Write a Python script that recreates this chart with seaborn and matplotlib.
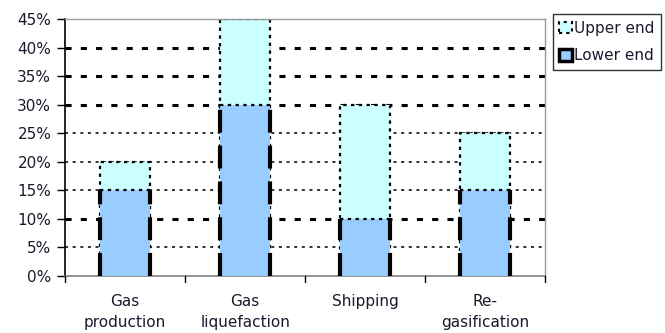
import matplotlib
matplotlib.use("Agg")
import matplotlib.pyplot as plt
import seaborn as sns
import pandas as pd
from matplotlib.patches import Patch

categories = ["Gas\nproduction", "Gas\nliquefaction", "Shipping", "Re-\ngasification"]
lower_end = [15, 30, 10, 15]
upper_end = [20, 45, 30, 25]
y_ticks = [0, 5, 10, 15, 20, 25, 30, 35, 40, 45]

df = pd.DataFrame({"category": categories, "lower": lower_end, "upper": upper_end})

sns.set_style("white")
plt.rcParams["font.family"] = ["DejaVu Sans"]

TEXT = "#1a1a2e"
FS = 11

fig = plt.figure(figsize=(6.65, 3.33), dpi=100)
ax = fig.add_axes([0.098, 0.171, 0.722, 0.772])

# dotted gridlines behind the bars
for t in y_ticks[1:-1]:
    lw = 2.2 if t in (10, 30, 35, 40) else 1.1
    ax.axhline(t, color="black", linestyle=(0, (2, 3)), linewidth=lw, zorder=0)

sns.barplot(data=df, x="category", y="upper", color="#CCFFFF", width=0.42,
            saturation=1, ax=ax, zorder=2)
n_upper = len(ax.patches)
sns.barplot(data=df, x="category", y="lower", color="#99CCFF", width=0.42,
            saturation=1, ax=ax, zorder=3)

for i, p in enumerate(ax.patches):
    if i < n_upper:
        p.set_edgecolor("black")
        p.set_linestyle((0, (1.5, 2)))
        p.set_linewidth(1.6)
    else:
        p.set_edgecolor("none")
        # dashed outline on the two sides of the lower segment
        x0, w, h = p.get_x(), p.get_width(), p.get_height()
        ax.vlines([x0, x0 + w], 0, h, colors="black", linestyles=[(0, (5.5, 3.1))],
                  linewidth=3.0, zorder=4)
        ax.hlines(h, x0, x0 + w, colors="black", linestyles=[(0, (1.5, 2))],
                  linewidth=1.6, zorder=4)

ax.set_ylim(0, 45)
ax.set_xlim(-0.5, len(categories) - 0.5)
ax.set_yticks(y_ticks)
ax.set_yticklabels([f"{t}%" for t in y_ticks], fontsize=FS, color=TEXT)
ax.set_xticks(range(len(categories)))
ax.set_xticklabels(categories, fontsize=FS, color=TEXT, linespacing=1.45)
ax.tick_params(axis="x", length=0, pad=13)
ax.tick_params(axis="y", length=6, width=1, color="black", direction="out", left=True, pad=4)
ax.set_xlabel("")
ax.set_ylabel("")

# category boundary ticks below the axis
for b in [-0.5, 0.5, 1.5, 2.5, 3.5]:
    ax.plot([b, b], [0, -1.0], color="black", linewidth=1, clip_on=False, zorder=5)

for side in ["top", "right"]:
    ax.spines[side].set_color("#999999")
    ax.spines[side].set_linewidth(1)
ax.spines["left"].set_color("black")
ax.spines["left"].set_linewidth(1.2)
ax.spines["bottom"].set_color("#808080")
ax.spines["bottom"].set_linewidth(1.2)

handles = [
    Patch(facecolor="#CCFFFF", edgecolor="black", linestyle=(0, (1.5, 2)), linewidth=1.5, label="Upper end"),
    Patch(facecolor="#99CCFF", edgecolor="black", linewidth=2.5, label="Lower end"),
]
leg = fig.legend(handles=handles, loc="upper left", bbox_to_anchor=(0.831, 0.958),
                 fontsize=FS, frameon=True, fancybox=False, handlelength=0.8,
                 handleheight=0.8, handletextpad=0.15, borderpad=0.45, labelspacing=0.8,
                 borderaxespad=0)
leg.get_frame().set_edgecolor("black")
leg.get_frame().set_linewidth(1)
for t in leg.get_texts():
    t.set_color(TEXT)

fig.savefig("out.png", dpi=100)
